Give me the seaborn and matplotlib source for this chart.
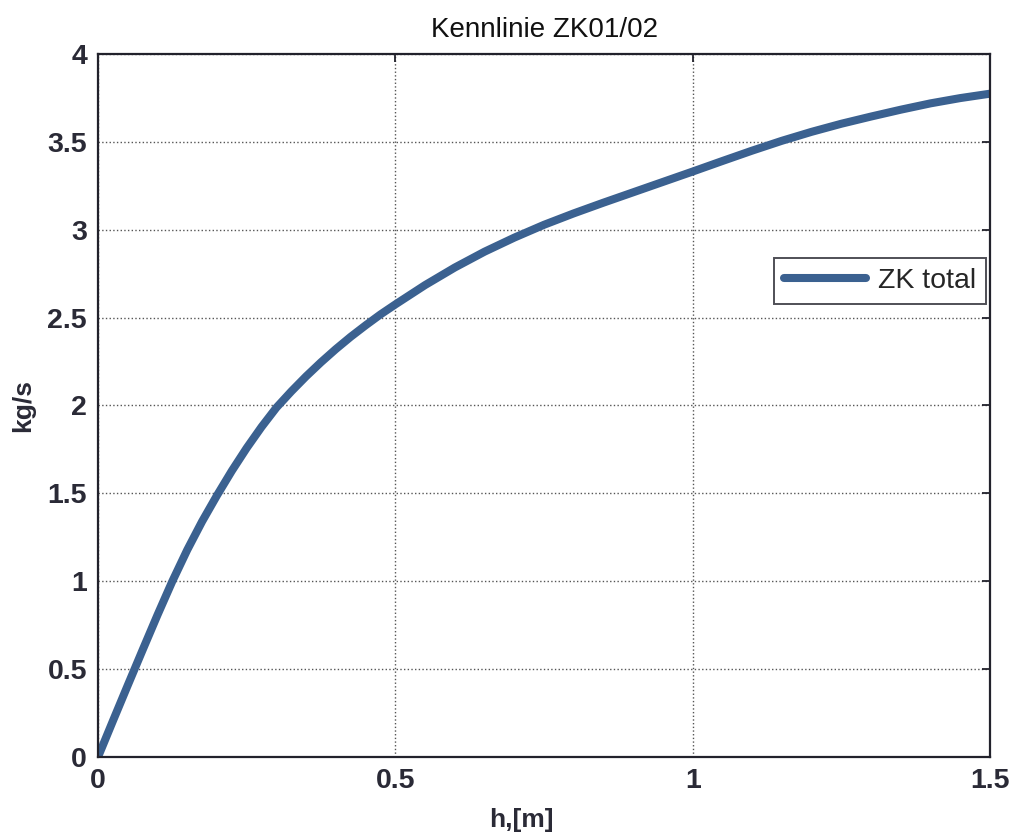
import matplotlib
matplotlib.use("Agg")
import matplotlib.pyplot as plt
import seaborn as sns
import pandas as pd

# Characteristic curve of ZK01/02: mass flow vs. head
h_m = [0.0, 0.025, 0.05, 0.075, 0.1, 0.125, 0.15, 0.175, 0.2, 0.225, 0.25,
       0.275, 0.3, 0.325, 0.35, 0.375, 0.4, 0.425, 0.45, 0.475, 0.5, 0.55,
       0.6, 0.65, 0.7, 0.75, 0.8, 0.85, 0.9, 0.95, 1.0, 1.05, 1.1, 1.15,
       1.2, 1.25, 1.3, 1.35, 1.4, 1.45, 1.5]
flow_kgs = [0.0, 0.205, 0.408, 0.609, 0.808, 1.0, 1.178, 1.34, 1.488, 1.628,
            1.758, 1.878, 1.988, 2.08, 2.166, 2.246, 2.321, 2.391, 2.456,
            2.518, 2.575, 2.685, 2.785, 2.875, 2.955, 3.028, 3.093, 3.154,
            3.213, 3.272, 3.331, 3.391, 3.45, 3.506, 3.557, 3.603, 3.644,
            3.683, 3.719, 3.749, 3.774]
series_name = "ZK total"

x_ticks = [0, 0.5, 1, 1.5]
x_tick_labels = ["0", "0.5", "1", "1.5"]
y_ticks = [0, 0.5, 1, 1.5, 2, 2.5, 3, 3.5, 4]
y_tick_labels = ["0", "0.5", "1", "1.5", "2", "2.5", "3", "3.5", "4"]

df = pd.DataFrame({"h": h_m, "flow": flow_kgs, "series": series_name})

sns.set_style("white")
plt.rcParams["font.family"] = ["Liberation Sans", "DejaVu Sans"]

fig = plt.figure(figsize=(10.18, 8.38), dpi=100)
ax = fig.add_axes([0.0963, 0.0967, 0.8762, 0.8389])

sns.lineplot(data=df, x="h", y="flow", hue="series", palette=["#3b6190"],
             linewidth=5.8, ax=ax, solid_capstyle="round", solid_joinstyle="round")

ax.set_xlim(0, 1.5)
ax.set_ylim(0, 4)
ax.set_xticks(x_ticks)
ax.set_xticklabels(x_tick_labels)
ax.set_yticks(y_ticks)
ax.set_yticklabels(y_tick_labels)

ax.grid(True, linestyle=":", color="#555555", linewidth=1.0)
ax.set_axisbelow(True)
for sp in ax.spines.values():
    sp.set_visible(True)
    sp.set_color("#22222c")
    sp.set_linewidth(1.6)

ax.tick_params(direction="in", length=6, width=1.3, top=True, right=True,
               labelsize=20.5, colors="#22222c", pad=8)
for lbl in ax.get_xticklabels() + ax.get_yticklabels():
    lbl.set_fontweight("bold")
    lbl.set_color("#2a2a36")

ax.set_title("Kennlinie ZK01/02", fontsize=20, color="#111111", pad=12)
ax.set_xlabel("h,[m]", fontsize=19, fontweight="bold", color="#2a2a36")
ax.xaxis.set_label_coords(0.475, -0.072)
ax.set_ylabel("kg/s", fontsize=19, fontweight="bold", color="#2a2a36")
ax.yaxis.set_label_coords(-0.07, 0.5)

leg = ax.legend(loc="center right", bbox_to_anchor=(1.0, 0.677), fontsize=20.5,
                frameon=True, fancybox=False, edgecolor="#22222c",
                handlelength=2.9, borderpad=0.35, handletextpad=0.4,
                borderaxespad=0.15)
leg.get_frame().set_linewidth(1.4)
for line in leg.get_lines():
    line.set_linewidth(5.8)

fig.savefig("out.png", dpi=100)
